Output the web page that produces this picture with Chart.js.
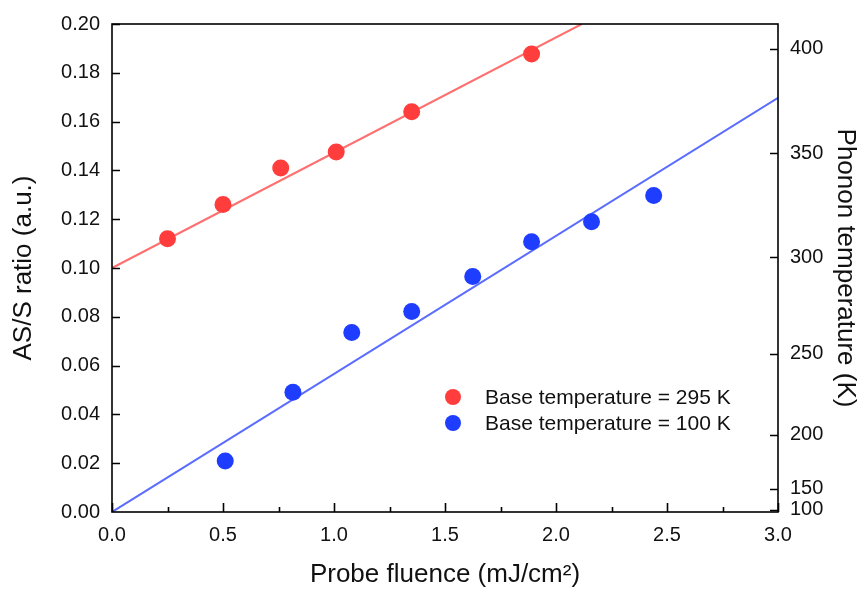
<!DOCTYPE html>
<html>
<head>
<meta charset="utf-8">
<script src="https://cdn.jsdelivr.net/npm/chart.js@4.4.1/dist/chart.umd.min.js"></script>
<style>
  html, body { margin: 0; padding: 0; background: #fff; }
</style>
</head>
<body>
<canvas id="chRaman" width="861" height="590"></canvas>
<script>
// measured points
var fluence295 = [0.25, 0.50, 0.76, 1.01, 1.35, 1.89];
var ratio295   = [0.112, 0.126, 0.141, 0.1475, 0.164, 0.1877];
var fluence100 = [0.51, 0.815, 1.08, 1.35, 1.625, 1.89, 2.16, 2.44];
var ratio100   = [0.0209, 0.0491, 0.0736, 0.0822, 0.0965, 0.1108, 0.119, 0.1297];

// linear fits (end points)
var fit295X = [0, 2.116];
var fit295Y = [0.100, 0.200];
var fit100X = [0, 3.0];
var fit100Y = [0.0, 0.1697];

// right axis: phonon temperature labels
var tempTicks = [100, 150, 200, 250, 300, 350, 400];
// AS/S = A * exp(-E/T)
var bzA = 1.14, bzE = 717;

var labels = ['Base temperature = 295 K', 'Base temperature = 100 K'];
var colors = ['#ff3d3d', '#1f3dff'];
var lineColors = ['#ff6f6f', '#5b6dff'];

function pts(xs, ys) {
  return xs.map(function (x, i) { return {x: x, y: ys[i]}; });
}

var font = 'Liberation Sans, Arial, sans-serif';

// frame, inward ticks and legend
var framePlugin = {
  id: 'frame',
  afterDraw: function (chart) {
    var ctx = chart.ctx, a = chart.chartArea;
    var sx = chart.scales.x, sy = chart.scales.y, sy2 = chart.scales.y2;
    ctx.save();
    ctx.strokeStyle = '#000';
    ctx.lineWidth = 1.6;
    ctx.strokeRect(a.left, a.top, a.right - a.left, a.bottom - a.top);
    ctx.beginPath();
    for (var v = 0; v <= 3.0001; v += 0.25) {
      var px = Math.round(sx.getPixelForValue(v)) + 0.5;
      var major = Math.abs(v * 2 - Math.round(v * 2)) < 1e-6;
      ctx.moveTo(px, a.bottom);
      ctx.lineTo(px, a.bottom - (major ? 9 : 5));
    }
    for (var w = 0.02; w < 0.2; w += 0.02) {
      var py = Math.round(sy.getPixelForValue(w)) + 0.5;
      ctx.moveTo(a.left, py);
      ctx.lineTo(a.left + 8, py);
    }
    tempTicks.forEach(function (t) {
      var py2 = Math.round(sy2.getPixelForValue(bzA * Math.exp(-bzE / t))) + 0.5;
      ctx.moveTo(a.right, py2);
      ctx.lineTo(a.right - 8, py2);
    });
    ctx.stroke();

    // legend
    ctx.font = '21px ' + font;
    ctx.textBaseline = 'middle';
    ctx.textAlign = 'left';
    for (var i = 0; i < 2; i++) {
      var ly = 397 + i * 26;
      ctx.fillStyle = colors[i];
      ctx.beginPath();
      ctx.arc(453, ly, 8, 0, Math.PI * 2);
      ctx.fill();
      ctx.fillStyle = '#111';
      ctx.fillText(labels[i], 485, ly + 1);
    }
    ctx.restore();
  }
};

var tickFont = {family: font, size: 20};
var titleFont = {family: font, size: 26};

new Chart(document.getElementById('chRaman'), {
  type: 'scatter',
  data: {
    datasets: [
      {label: labels[0], data: pts(fluence295, ratio295), backgroundColor: colors[0],
       borderWidth: 0, pointRadius: 8.5, order: 1},
      {label: labels[1], data: pts(fluence100, ratio100), backgroundColor: colors[1],
       borderWidth: 0, pointRadius: 8.5, order: 1},
      {label: 'fit295', data: pts(fit295X, fit295Y), showLine: true, borderColor: lineColors[0],
       borderWidth: 2, pointRadius: 0, order: 2},
      {label: 'fit100', data: pts(fit100X, fit100Y), showLine: true, borderColor: lineColors[1],
       borderWidth: 2, pointRadius: 0, order: 2}
    ]
  },
  options: {
    responsive: false,
    animation: false,
    devicePixelRatio: 1,
    layout: {padding: {top: 23, left: 0, right: 0, bottom: 0}},
    plugins: {legend: {display: false}, tooltip: {enabled: false}},
    scales: {
      x: {
        type: 'linear', min: 0, max: 3,
        afterFit: function (s) { s.height = 78; },
        grid: {display: false, drawTicks: false},
        border: {display: false},
        ticks: {stepSize: 0.5, padding: 11, color: '#111', font: tickFont,
                callback: function (v) { return v.toFixed(1); }},
        title: {display: true, text: 'Probe fluence (mJ/cm²)', color: '#111', font: titleFont,
                padding: {top: 0, bottom: 0}}
      },
      y: {
        position: 'left', min: 0, max: 0.2,
        afterFit: function (s) { s.width = 112; },
        grid: {display: false, drawTicks: false},
        border: {display: false},
        ticks: {stepSize: 0.02, padding: 12, color: '#111', font: tickFont,
                callback: function (v) { return v.toFixed(2); }},
        title: {display: true, text: 'AS/S ratio (a.u.)', color: '#111', font: titleFont,
                padding: {top: 8, bottom: 0}}
      },
      y2: {
        position: 'right', min: 0, max: 0.2,
        afterFit: function (s) { s.width = 83; },
        afterBuildTicks: function (s) {
          s.ticks = tempTicks.map(function (t) { return {value: bzA * Math.exp(-bzE / t)}; });
        },
        grid: {display: false, drawTicks: false},
        border: {display: false},
        ticks: {autoSkip: false, padding: 12, color: '#111', font: tickFont,
                callback: function (v, i) { return String(tempTicks[i]); }},
        title: {display: true, text: 'Phonon temperature (K)', color: '#111', font: titleFont,
                padding: {top: 0, bottom: 0}}
      }
    }
  },
  plugins: [framePlugin]
});
</script>
</body>
</html>
